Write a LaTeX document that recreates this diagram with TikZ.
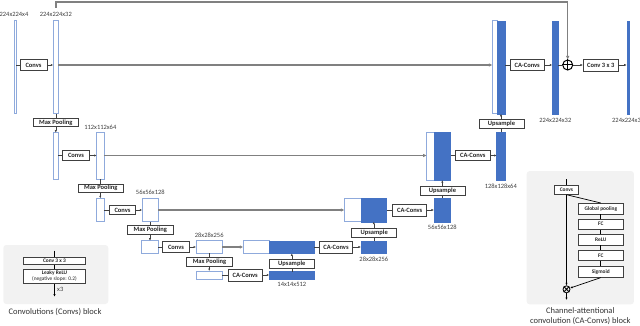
\documentclass[tikz,border=0pt]{standalone}
\usepackage{fontspec}
\setmainfont{Carlito}
\usetikzlibrary{arrows.meta}
\definecolor{fmblue}{RGB}{68,114,196}
\definecolor{fmlight}{RGB}{143,170,220}
\definecolor{boxgray}{RGB}{64,64,64}
\definecolor{skipgray}{RGB}{128,128,128}
\definecolor{bggray}{RGB}{242,242,242}
\begin{document}
\begin{tikzpicture}[x=1pt,y=-1pt,
 fm/.style={draw=fmlight, fill=white, line width=0.7pt, inner sep=0pt, outer sep=0pt},
 fmb/.style={draw=fmblue, fill=fmblue, line width=0.4pt, inner sep=0pt, outer sep=0pt},
 op/.style={draw=boxgray, fill=white, line width=0.7pt, inner sep=0pt, font=\fontsize{6.5}{7.5}\selectfont\bfseries, text=black!85},
 lop/.style={op, font=\fontsize{5.4}{6.4}\selectfont\bfseries},
 lbl/.style={font=\fontsize{6.5}{7.5}\selectfont, text=black!75, inner sep=0pt},
 captxt/.style={font=\fontsize{8.5}{10}\selectfont, text=black!80, inner sep=0pt, align=center},
 ln/.style={draw=boxgray, line width=0.6pt},
 arr/.style={ln, -{Latex[length=2.5pt,width=2.2pt]}},
 lgl/.style={draw=black, line width=0.7pt},
 lga/.style={lgl, -{Latex[length=2.5pt,width=2.2pt]}},
 skip/.style={draw=skipgray, line width=1.4pt, -{Latex[length=3.5pt,width=3.5pt]}},
 bg/.style={fill=bggray, rounded corners=3pt, inner sep=0pt}
 ]
\useasboundingbox (0,0) rectangle (640,326);

% legend backgrounds
\node[bg, minimum width=105, minimum height=59] (lg1) at (55.8,274.5) {};
\node[bg, minimum width=107.3, minimum height=133.3] (lg2) at (580.3,237.7) {};

% ---------- level 1 ----------
\node[fm, minimum width=2, minimum height=93] (in) at (15,67.3) {};
\node[fm, minimum width=5, minimum height=93] (e1) at (55.8,67.3) {};
\node[op, minimum width=27, minimum height=11] (conv1) at (33.5,65) {Convs};
\node[fm, minimum width=4.7, minimum height=93] (c1w) at (494.7,67.3) {};
\node[fmb, minimum width=8, minimum height=93] (c1b) at (501,67.3) {};
\node[op, minimum width=34.3, minimum height=10.7] (ca1) at (527.2,65) {CA-Convs};
\node[fmb, minimum width=6, minimum height=93] (d0) at (555.3,67.3) {};
\node[circle, draw=black, line width=1pt, minimum size=10, inner sep=0pt] (plus) at (567.7,65) {};
\draw[line width=1pt] (plus.north) -- (plus.south) (plus.west) -- (plus.east);
\node[op, minimum width=35, minimum height=12] (conv33) at (600.8,65) {Conv 3 x 3};
\node[fmb, minimum width=2, minimum height=93] (out) at (627.7,67.3) {};
\node[lbl] (l1) at (14,14.5) {224x224x4};
\node[lbl] (l2) at (55.8,14.5) {224x224x32};
\node[lbl] (l3) at (555.3,120) {224x224x32};
\node[lbl] (l4) at (626.5,120) {224x224x3};

% ---------- level 2 ----------
\node[op, minimum width=45, minimum height=8.4] (mp1) at (55.8,122.5) {Max Pooling};
\node[fm, minimum width=5, minimum height=46.6] (e1p) at (55.8,156) {};
\node[op, minimum width=26.6, minimum height=10.7] (conv2) at (76,155.5) {Convs};
\node[fm, minimum width=7.3, minimum height=46.6] (e2) at (100.3,156) {};
\node[lbl] (l5) at (100.3,127) {112x112x64};
\node[fm, minimum width=7.3, minimum height=47.7] (c2w) at (430.3,156.2) {};
\node[fmb, minimum width=16.7, minimum height=47.7] (c2b) at (442.3,156.2) {};
\node[op, minimum width=34.3, minimum height=10.3] (ca2) at (472.8,155.5) {CA-Convs};
\node[fmb, minimum width=8.3, minimum height=47.7] (d1) at (500.8,156.2) {};
\node[op, minimum width=45, minimum height=9] (up1) at (501.5,124) {Upsample};
\node[lbl] (l6) at (500.8,186) {128x128x64};

% ---------- level 3 ----------
\node[op, minimum width=45, minimum height=8.3] (mp2) at (100.8,188.2) {Max Pooling};
\node[fm, minimum width=7.3, minimum height=23.4] (e2p) at (100.3,210) {};
\node[op, minimum width=26.4, minimum height=9.5] (conv3) at (122.5,210) {Convs};
\node[fm, minimum width=16, minimum height=23.4] (e3) at (150.3,210) {};
\node[lbl] (l7) at (150.3,192.5) {56x56x128};
\node[fm, minimum width=16.7, minimum height=23.4] (c3w) at (352.7,210) {};
\node[fmb, minimum width=25.7, minimum height=23.4] (c3b) at (373.8,210) {};
\node[op, minimum width=34, minimum height=11.7] (ca3) at (409.7,210) {CA-Convs};
\node[fmb, minimum width=16.7, minimum height=24] (d2) at (442.3,209.7) {};
\node[op, minimum width=45, minimum height=8.3] (up2) at (442.5,190.8) {Upsample};
\node[lbl] (l8) at (442.3,227.5) {56x56x128};

% ---------- level 4 ----------
\node[op, minimum width=46, minimum height=8.6] (mp3) at (150.3,230) {Max Pooling};
\node[fm, minimum width=16.6, minimum height=12.6] (e3p) at (150,247) {};
\node[op, minimum width=26.6, minimum height=10.6] (conv4) at (176,247) {Convs};
\node[fm, minimum width=26.3, minimum height=12.6] (e4) at (209.2,247) {};
\node[lbl] (l9) at (209.2,235.5) {28x28x256};
\node[fm, minimum width=26, minimum height=12.6] (c4w) at (256.3,247) {};
\node[fmb, minimum width=45, minimum height=12.6] (c4b) at (291.8,247) {};
\node[op, minimum width=33.4, minimum height=11.7] (ca4) at (336,247) {CA-Convs};
\node[fmb, minimum width=25.7, minimum height=12.6] (d3) at (373.8,247) {};
\node[op, minimum width=45, minimum height=9] (up3) at (374.2,232.8) {Upsample};
\node[lbl] (l10) at (373.8,259) {28x28x256};

% ---------- level 5 ----------
\node[op, minimum width=45.6, minimum height=8.7] (mp4) at (209.5,261.7) {Max Pooling};
\node[fm, minimum width=26.3, minimum height=8] (e4p) at (209.2,275) {};
\node[op, minimum width=34.5, minimum height=11.7] (ca5) at (245.2,275) {CA-Convs};
\node[fmb, minimum width=45, minimum height=7.3] (d4) at (291.8,275.3) {};
\node[op, minimum width=45, minimum height=9] (up4) at (291.8,263.8) {Upsample};
\node[lbl] (l11) at (291.8,284.5) {14x14x512};

% ---------- connectors level 1 ----------
\draw[ln] (in.east |- conv1) -- (conv1.west);
\draw[arr] (conv1.east) -- (conv1 -| e1.west);
\draw[skip] (conv1 -| e1.east) -- (conv1 -| c1w.west);
\draw[ln] (ca1 -| c1b.east) -- (ca1.west);
\draw[arr] (ca1.east) -- (ca1 -| d0.west);
\draw[ln] (ca1 -| d0.east) -- (plus.west);
\draw[arr] (plus.east) -- (conv33.west);
\draw[arr] (conv33.east) -- (conv33 -| out.west);
\coordinate (sk) at (55.8,8);
\coordinate (sktop) at (55.8,2);
\draw[skip] (sk) -- (sktop) -| (plus.north);

% ---------- pooling ----------
\draw[ln] (e1.south) -- (e1.south |- mp1.north);
\draw[arr] (e1p.north |- mp1.south) -- (e1p.north);
\draw[ln] (e2.south) -- (e2.south |- mp2.north);
\draw[arr] (e2p.north |- mp2.south) -- (e2p.north);
\draw[ln] (e3.south) -- (e3.south |- mp3.north);
\draw[arr] (e3p.north |- mp3.south) -- (e3p.north);
\draw[ln] (e4.south) -- (e4.south |- mp4.north);
\draw[arr] (e4p.north |- mp4.south) -- (e4p.north);

% ---------- level 2 ----------
\draw[ln] (e1p.east |- conv2) -- (conv2.west);
\draw[arr] (conv2.east) -- (conv2 -| e2.west);
\draw[skip] (conv2 -| e2.east) -- (conv2 -| c2w.west);
\draw[ln] (ca2 -| c2b.east) -- (ca2.west);
\draw[arr] (ca2.east) -- (ca2 -| d1.west);
\draw[ln] (d1.north) -- (d1.north |- up1.south);
\draw[arr] (c1b.south |- up1.north) -- (c1b.south);

% ---------- level 3 ----------
\draw[ln] (e2p.east |- conv3) -- (conv3.west);
\draw[arr] (conv3.east) -- (conv3 -| e3.west);
\draw[skip] (e3.east) -- (c3w.west);
\draw[ln] (c3b.east) -- (ca3.west);
\draw[arr] (ca3.east) -- (ca3 -| d2.west);
\draw[ln] (d2.north) -- (d2.north |- up2.south);
\draw[arr] (c2b.south |- up2.north) -- (c2b.south);

% ---------- level 4 ----------
\draw[ln] (e3p.east) -- (conv4.west);
\draw[arr] (conv4.east) -- (e4.west);
\draw[skip] (e4.east) -- (c4w.west);
\draw[ln] (c4b.east) -- (ca4.west);
\draw[arr] (ca4.east) -- (d3.west);
\draw[ln] (d3.north) -- (d3.north |- up3.south);
\draw[arr] (c3b.south |- up3.north) -- (c3b.south);

% ---------- level 5 ----------
\draw[ln] (e4p.east) -- (ca5.west);
\draw[arr] (ca5.east) -- (ca5 -| d4.west);
\draw[ln] (d4.north) -- (d4.north |- up4.south);
\draw[arr] (c4b.south |- up4.north) -- (c4b.south);

% ---------- Convs legend ----------
\coordinate (lt) at (54.5,250.7);
\node[lop, minimum width=62.4, minimum height=6.6] (c33L) at (54.5,261) {Conv 3 x 3};
\node[lop, minimum width=62.4, minimum height=14, align=center] (lrL) at (54.5,276.3) {Leaky ReLU\\{\mdseries (negative slope: 0.2)}};
\coordinate (lb) at (54.5,296.7);
\draw[lgl] (lt) -- (c33L.north);
\draw[lgl] (c33L.south) -- (lrL.north);
\draw[lga] (lrL.south) -- (lb);
\node[lbl, anchor=west] (x3) at (57,289.3) {x3};
\node[captxt] (cap1) at (55,312) {Convolutions (Convs) block};

% ---------- CA-Convs legend ----------
\coordinate (ct) at (566.5,179.3);
\node[lop, minimum width=24, minimum height=9.3] (cvL) at (566.5,189.7) {Convs};
\node[lop, minimum width=45, minimum height=10.7] (gpL) at (600.8,208.7) {Global pooling};
\node[lop, minimum width=45, minimum height=10.5] (fc1L) at (600.8,224.2) {FC};
\node[lop, minimum width=45, minimum height=10.5] (reL) at (600.8,239.7) {ReLU};
\node[lop, minimum width=45, minimum height=10.5] (fc2L) at (600.8,255.3) {FC};
\node[lop, minimum width=45, minimum height=10.5] (sgL) at (600.8,272) {Sigmoid};
\node[circle, draw=black, line width=0.8pt, minimum size=7, inner sep=0pt] (ot) at (566.5,289.3) {};
\draw[line width=0.8pt] (ot.north west) -- (ot.south east) (ot.north east) -- (ot.south west);
\coordinate (cb) at (566.5,300);
\draw[lgl] (ct) -- (cvL.north);
\draw[lgl] (cvL.south) -- (gpL.north);
\draw[lga] (cvL.south) -- (ot.north);
\draw[lgl] (gpL.south) -- (fc1L.north);
\draw[lgl] (fc1L.south) -- (reL.north);
\draw[lgl] (reL.south) -- (fc2L.north);
\draw[lgl] (fc2L.south) -- (sgL.north);
\draw[lga] (sgL.south) -- (ot);
\draw[lga] (ot.south) -- (cb);
\node[captxt] (cap2) at (580.3,316) {Channel-attentional\\convolution (CA-Convs) block};
\end{tikzpicture}
\end{document}
